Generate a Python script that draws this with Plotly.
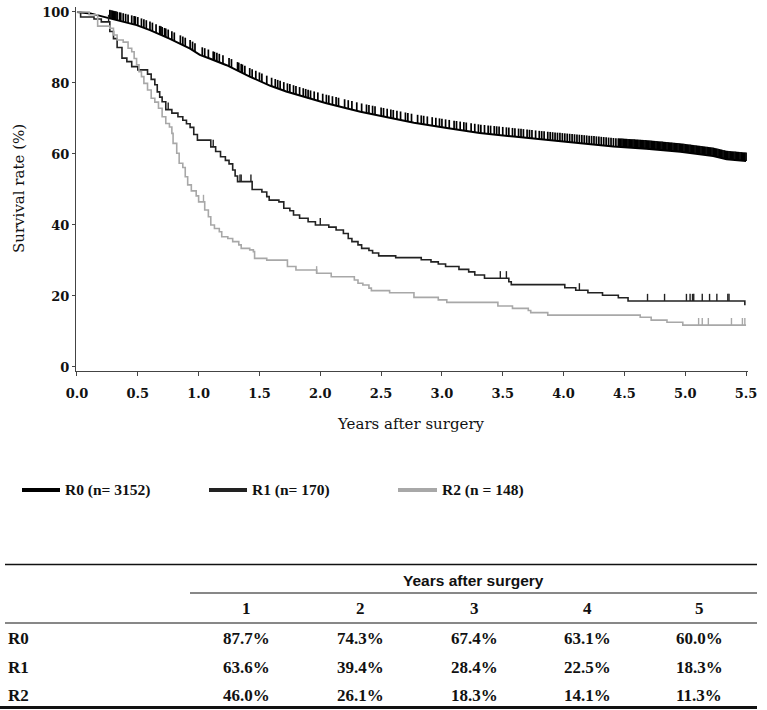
import numpy as np
import plotly.graph_objects as go

W, H = 767, 710

# ---------------- data ----------------
r0_t = [0.00, 0.11, 0.27, 0.49, 0.60, 0.76, 0.93, 1.01, 1.09, 1.23, 1.42, 1.59, 1.72, 1.92,
        2.05, 2.33, 2.60, 2.77, 3.04, 3.31, 3.59, 3.86, 4.14, 4.41, 4.68, 4.96, 5.23, 5.34, 5.50]
r0_s = [100.0, 99.6, 98.2, 96.3, 94.9, 92.5, 89.7, 87.9, 86.9, 85.0, 81.8, 79.2, 77.6, 75.5,
        74.3, 71.9, 70.0, 68.8, 67.3, 65.9, 64.9, 63.9, 63.0, 62.1, 61.5, 60.6, 59.4, 58.5, 58.0]
r0_cens = [0.27, 0.28, 0.29, 0.30, 0.31, 0.32, 0.33, 0.35, 0.36, 0.38, 0.40, 0.42, 0.45, 0.47,
           0.48, 0.50, 0.53, 0.55, 0.57, 0.60, 0.62, 0.65, 0.68, 0.69, 0.70, 0.72, 0.73, 0.75,
           0.78, 0.80, 0.85, 0.87, 0.89, 0.93, 0.95, 0.97, 1.03, 1.05, 1.08, 1.12, 1.13, 1.15,
           1.17, 1.20, 1.25, 1.27, 1.32, 1.33, 1.35, 1.36, 1.38, 1.42, 1.44, 1.47, 1.50, 1.52,
           1.56, 1.60, 1.63, 1.65, 1.67, 1.70, 1.73, 1.75, 1.78, 1.80, 1.83, 1.86, 1.88, 1.90,
           1.92, 1.95, 1.98, 2.02, 2.05, 2.07, 2.10, 2.13, 2.15, 2.20, 2.23, 2.26, 2.30, 2.34,
           2.38, 2.40, 2.43, 2.45, 2.50, 2.52, 2.55, 2.58, 2.60, 2.63, 2.66, 2.70, 2.72, 2.75,
           2.80, 2.83, 2.85, 2.88, 2.92, 2.95, 2.98, 3.00, 3.03, 3.06, 3.10, 3.12, 3.15, 3.18,
           3.20, 3.24, 3.27, 3.30, 3.32, 3.35, 3.38, 3.40, 3.43, 3.45, 3.47, 3.50, 3.53, 3.55,
           3.58, 3.60, 3.63, 3.65, 3.67, 3.70, 3.72, 3.74, 3.77, 3.80, 3.82, 3.84, 3.87, 3.89,
           3.91, 3.93, 3.95, 3.97, 3.99, 4.01, 4.03, 4.05, 4.07, 4.09, 4.11, 4.13, 4.15, 4.17,
           4.19, 4.21, 4.23, 4.25, 4.27, 4.29, 4.31, 4.33, 4.35, 4.37, 4.39, 4.41, 4.43, 4.45,
           4.46, 4.47, 4.48, 4.49, 4.50, 4.51, 4.52, 4.53, 4.54, 4.55, 4.56, 4.57, 4.58, 4.59,
           4.60, 4.61, 4.62, 4.63, 4.64, 4.65, 4.66, 4.67, 4.68, 4.69, 4.70, 4.71, 4.72, 4.73,
           4.74, 4.75, 4.76, 4.77, 4.78, 4.79, 4.80, 4.81, 4.82, 4.83, 4.84, 4.85, 4.86, 4.87,
           4.88, 4.89, 4.90, 4.91, 4.92, 4.93, 4.94, 4.95, 4.96, 4.97, 4.98, 4.99, 5.00, 5.01,
           5.02, 5.03, 5.04, 5.05, 5.06, 5.07, 5.08, 5.09, 5.10, 5.11, 5.12, 5.13, 5.14, 5.15,
           5.16, 5.17, 5.18, 5.19, 5.20, 5.21, 5.22, 5.23, 5.24, 5.25, 5.26, 5.27, 5.28, 5.29,
           5.30, 5.31, 5.32, 5.33, 5.34, 5.35, 5.36, 5.37, 5.38, 5.39, 5.40, 5.41, 5.42, 5.43,
           5.44, 5.45, 5.46, 5.47, 5.48, 5.49, 5.50]

r1_t = [0.00, 0.03, 0.14, 0.20, 0.27, 0.30, 0.33, 0.37, 0.41, 0.45, 0.50, 0.58, 0.61, 0.64,
        0.66, 0.68, 0.70, 0.73, 0.78, 0.83, 0.87, 0.90, 0.93, 0.96, 0.99, 1.10, 1.14, 1.18,
        1.22, 1.25, 1.28, 1.30, 1.32, 1.44, 1.52, 1.56, 1.58, 1.66, 1.70, 1.75, 1.78, 1.83,
        1.90, 1.96, 2.07, 2.13, 2.19, 2.23, 2.26, 2.31, 2.34, 2.40, 2.43, 2.48, 2.62, 2.83,
        2.91, 2.97, 3.03, 3.14, 3.22, 3.27, 3.35, 3.55, 3.57, 4.01, 4.10, 4.20, 4.32, 4.45,
        4.53, 5.49]
r1_s = [100.0, 98.6, 98.0, 97.2, 94.5, 92.5, 90.0, 87.0, 86.0, 84.6, 83.7, 82.5, 81.0, 79.5,
        77.5, 76.0, 74.7, 72.5, 71.5, 70.5, 69.5, 68.5, 67.5, 65.5, 63.9, 62.0, 60.7, 59.2,
        58.2, 57.2, 55.5, 53.8, 52.2, 50.0, 49.3, 48.0, 47.0, 46.5, 44.7, 44.0, 42.8, 41.9,
        40.9, 40.0, 39.4, 38.6, 37.6, 36.2, 35.3, 34.4, 33.4, 32.8, 32.1, 31.3, 30.8, 30.2,
        29.6, 29.0, 28.3, 27.5, 26.8, 25.9, 25.0, 24.0, 23.2, 22.3, 21.6, 20.9, 20.2, 19.5,
        18.6, 17.4]
r1_cens = [0.26, 0.75, 1.12, 1.34, 1.35, 1.43, 2.00, 3.48, 3.53, 4.13, 4.69, 4.83, 5.01,
           5.04, 5.06, 5.07, 5.14, 5.20, 5.26, 5.35, 5.36]

r2_t = [0.00, 0.10, 0.17, 0.27, 0.30, 0.33, 0.38, 0.42, 0.45, 0.47, 0.49, 0.51, 0.53, 0.55,
        0.58, 0.61, 0.64, 0.67, 0.70, 0.73, 0.76, 0.78, 0.79, 0.82, 0.84, 0.87, 0.89, 0.91,
        0.94, 0.98, 1.00, 1.05, 1.08, 1.10, 1.13, 1.17, 1.19, 1.24, 1.28, 1.33, 1.35, 1.42,
        1.45, 1.46, 1.56, 1.73, 1.80, 1.97, 2.09, 2.28, 2.31, 2.35, 2.40, 2.42, 2.57, 2.77,
        2.97, 3.04, 3.46, 3.58, 3.71, 3.73, 3.87, 4.63, 4.72, 4.85, 4.98, 5.50]
r2_s = [100.0, 99.2, 96.0, 95.4, 93.5, 92.1, 91.5, 89.8, 88.8, 86.9, 85.1, 83.2, 81.8, 79.9,
        78.0, 75.7, 74.6, 72.9, 70.5, 68.6, 67.6, 65.8, 63.0, 60.2, 57.4, 56.2, 53.6, 51.3,
        49.6, 48.2, 46.5, 44.2, 42.3, 40.0, 39.0, 38.1, 36.7, 36.2, 35.3, 34.4, 33.4, 33.0,
        32.5, 30.6, 30.1, 28.3, 27.3, 26.4, 25.4, 24.5, 23.6, 23.1, 22.2, 21.5, 20.9, 19.6,
        18.9, 18.2, 17.2, 16.5, 15.9, 15.3, 14.6, 14.0, 13.2, 12.6, 11.8, 11.8]
r2_cens = [1.04, 1.97, 5.11, 5.14, 5.19, 5.38, 5.47, 5.49]

x_ticks = [0.0, 0.5, 1.0, 1.5, 2.0, 2.5, 3.0, 3.5, 4.0, 4.5, 5.0, 5.5]
y_ticks = [0, 20, 40, 60, 80, 100]

legend_labels = ["R0 (n= 3152)", "R1 (n= 170)", "R2 (n = 148)"]

table_groups = ["R0", "R1", "R2"]
table_years = ["1", "2", "3", "4", "5"]
table_values = [
    ["87.7%", "74.3%", "67.4%", "63.1%", "60.0%"],
    ["63.6%", "39.4%", "28.4%", "22.5%", "18.3%"],
    ["46.0%", "26.1%", "18.3%", "14.1%", "11.3%"],
]

# ---------------- styles ----------------
C0, C1, C2 = "#000000", "#222222", "#a8a8a8"
SERIF = "DejaVu Serif, serif"
TSERIF = "Liberation Serif, Times New Roman, serif"
NARROW = "Liberation Sans Narrow, Arial Narrow, Liberation Sans, sans-serif"


def px(x):
    return x / W


def py(y):
    return 1 - y / H


def step_val(ts, ss, t):
    idx = np.searchsorted(np.array(ts), t, side="right") - 1
    return ss[max(idx, 0)]


def censor_segments(times, yfun, h):
    xs, ys = [], []
    for t in times:
        y0 = yfun(t)
        xs += [t, t, None]
        ys += [y0, y0 + h, None]
    return xs, ys


fig = go.Figure()

# R0 (smooth)
fig.add_trace(go.Scatter(x=r0_t, y=r0_s, mode="lines", line=dict(color=C0, width=2),
                         showlegend=False, hoverinfo="skip"))
cx, cy = censor_segments(r0_cens, lambda t: float(np.interp(t, r0_t, r0_s)), 2.4)
fig.add_trace(go.Scatter(x=cx, y=cy, mode="lines", line=dict(color=C0, width=1.7),
                         showlegend=False, hoverinfo="skip"))

# R1
fig.add_trace(go.Scatter(x=r1_t, y=r1_s, mode="lines", line=dict(color=C1, width=1.6, shape="hv"),
                         showlegend=False, hoverinfo="skip"))
cx, cy = censor_segments(r1_cens, lambda t: step_val(r1_t, r1_s, t), 2.0)
fig.add_trace(go.Scatter(x=cx, y=cy, mode="lines", line=dict(color=C1, width=1.4),
                         showlegend=False, hoverinfo="skip"))

# R2
fig.add_trace(go.Scatter(x=r2_t, y=r2_s, mode="lines", line=dict(color=C2, width=1.6, shape="hv"),
                         showlegend=False, hoverinfo="skip"))
cx, cy = censor_segments(r2_cens, lambda t: step_val(r2_t, r2_s, t), 2.0)
fig.add_trace(go.Scatter(x=cx, y=cy, mode="lines", line=dict(color=C2, width=1.4),
                         showlegend=False, hoverinfo="skip"))

# ---------------- layout ----------------
x0p, x1p, y0p, y1p = 76, 748, 371, 7
fig.update_layout(
    width=W, height=H,
    margin=dict(l=0, r=0, t=0, b=0),
    paper_bgcolor="white", plot_bgcolor="white",
    showlegend=False,
    xaxis=dict(domain=[px(x0p), px(x1p)], range=[-0.008, 5.516],
               tickvals=x_ticks, ticktext=[f"{v:.1f}" for v in x_ticks],
               showline=True, linecolor="#444", linewidth=1,
               ticks="outside", ticklen=4, tickcolor="#444", tickwidth=1,
               showgrid=False, zeroline=False, automargin=False,
               ticklabelstandoff=6,
               tickfont=dict(family=SERIF, size=13, color="#111", weight="bold")),
    yaxis=dict(domain=[py(y0p), py(y1p)], range=[-1.13, 101.4],
               tickvals=y_ticks, ticktext=[str(v) for v in y_ticks],
               showline=True, linecolor="#444", linewidth=1,
               ticks="outside", ticklen=3, tickcolor="#444", tickwidth=1,
               showgrid=False, zeroline=False, automargin=False,
               ticklabelstandoff=0,
               tickfont=dict(family=SERIF, size=13, color="#111", weight="bold")),
)

ann = []
shapes = []

# axis titles
ann.append(dict(x=px(411), y=py(424), xref="paper", yref="paper", text="Years after surgery",
                showarrow=False, xanchor="center", yanchor="middle",
                font=dict(family=SERIF, size=15, color="#111")))
ann.append(dict(x=px(19), y=py(189), xref="paper", yref="paper", text="Survival rate (%)",
                showarrow=False, xanchor="center", yanchor="middle", textangle=-90,
                font=dict(family=SERIF, size=15, color="#111")))

# legend
leg_colors = [C0, C1, C2]
leg_x = [(22, 60), (209, 247), (398, 437)]
for (a, b), col, lab in zip(leg_x, leg_colors, legend_labels):
    shapes.append(dict(type="line", xref="paper", yref="paper", x0=px(a), x1=px(b),
                       y0=py(490), y1=py(490), line=dict(color=col, width=4)))
    ann.append(dict(x=px(b + 3), y=py(490), xref="paper", yref="paper", text=lab,
                    showarrow=False, xanchor="left", yanchor="middle",
                    font=dict(family=TSERIF, size=15.5, color="#111", weight="bold")))


# table lines
def hline(y, xa, xb, w):
    shapes.append(dict(type="line", xref="paper", yref="paper", x0=px(xa), x1=px(xb),
                       y0=py(y), y1=py(y), line=dict(color="#111", width=w)))


hline(564.5, 5, 757, 1.5)
hline(593, 190, 757, 1)
hline(623, 5, 757, 1)
hline(707.5, 0, 757, 3)

ann.append(dict(x=px(473), y=py(580), xref="paper", yref="paper", text="Years after surgery",
                showarrow=False, xanchor="center", yanchor="middle",
                font=dict(family=NARROW, size=15.5, color="#111", weight="bold")))
col_x = [247, 360, 474, 587, 699]
for cxp, yr in zip(col_x, table_years):
    ann.append(dict(x=px(cxp), y=py(608), xref="paper", yref="paper", text=yr,
                    showarrow=False, xanchor="center", yanchor="middle",
                    font=dict(family=TSERIF, size=17, color="#111", weight="bold")))
row_y = [638, 667, 695]
for ryp, grp, vals in zip(row_y, table_groups, table_values):
    ann.append(dict(x=px(6), y=py(ryp), xref="paper", yref="paper", text=grp,
                    showarrow=False, xanchor="left", yanchor="middle",
                    font=dict(family=TSERIF, size=17, color="#111", weight="bold")))
    for cxp, v in zip(col_x, vals):
        ann.append(dict(x=px(cxp), y=py(ryp), xref="paper", yref="paper", text=v,
                        showarrow=False, xanchor="center", yanchor="middle",
                        font=dict(family=TSERIF, size=17, color="#111", weight="bold")))

fig.update_layout(annotations=ann, shapes=shapes)

fig.write_html("out.html",
               config={"displayModeBar": False, "staticPlot": True},
               post_script="document.body.style.margin='0px';document.body.style.padding='0px';")
